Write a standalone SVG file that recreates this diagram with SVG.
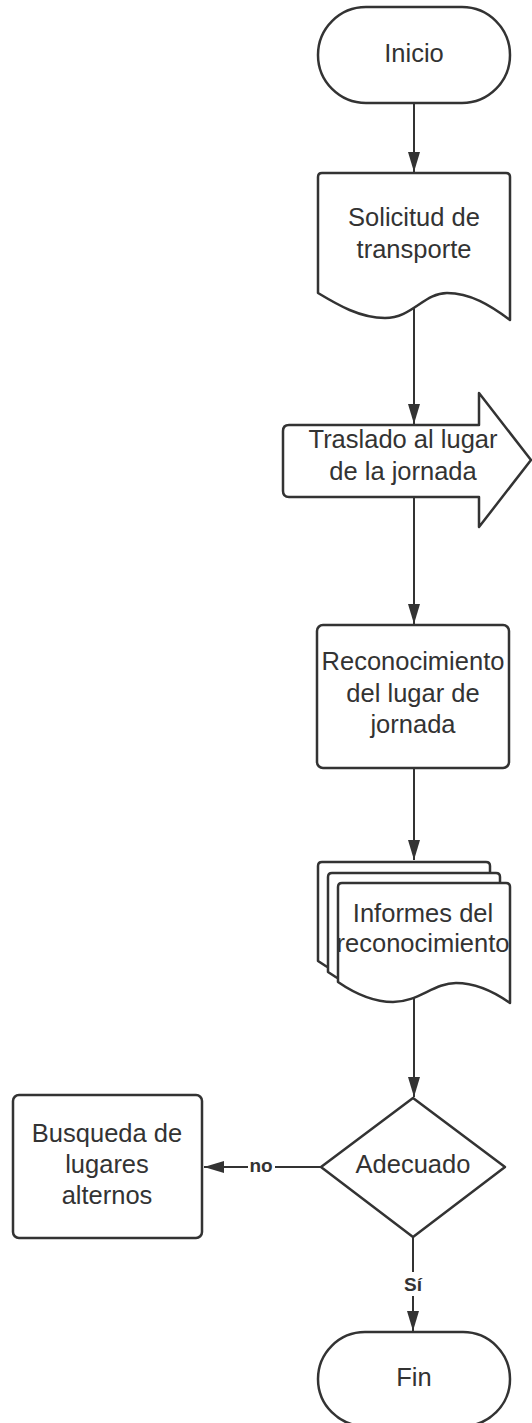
<svg xmlns="http://www.w3.org/2000/svg" xmlns:xlink="http://www.w3.org/1999/xlink" width="532" height="1423" viewBox="0 0 532 1423">
<style>
.shape{fill:#fff;stroke:#333;stroke-width:2.5;stroke-linejoin:round}
.t{font-family:"Liberation Sans",Arial,sans-serif;font-size:25.5px;fill:#333;text-anchor:middle}
.lbl{font-family:"Liberation Sans",Arial,sans-serif;font-size:19px;font-weight:bold;fill:#333;text-anchor:middle}
.conn{fill:none;stroke:#333;stroke-width:2}
</style>
<defs>
<marker id="ah" markerWidth="20" markerHeight="12" refX="20" refY="6" orient="auto" markerUnits="userSpaceOnUse">
<path d="M0,0 L20,6 L0,12 Z" fill="#333"/>
</marker>
<path id="page" d="M0,99 V4 Q0,0 4,0 H168 Q172,0 172,4 V120 C155,108 138,100 118,100 C96,100 80,119 55,119 C34,119 16,110 0,99 Z"/>
</defs>
<rect width="532" height="1423" fill="#fff"/>
<g id="connectors">
<line class="conn" x1="414" y1="103" x2="414" y2="172" marker-end="url(#ah)"/>
<line class="conn" x1="414" y1="306" x2="414" y2="424" marker-end="url(#ah)"/>
<line class="conn" x1="414" y1="497" x2="414" y2="624" marker-end="url(#ah)"/>
<line class="conn" x1="414" y1="768" x2="414" y2="860" marker-end="url(#ah)"/>
<line class="conn" x1="414" y1="994" x2="414" y2="1097" marker-end="url(#ah)"/>
<line class="conn" x1="321" y1="1167" x2="204" y2="1167" marker-end="url(#ah)"/>
<rect x="248" y="1155" width="27" height="22" fill="#fff"/>
<text class="lbl" x="261" y="1172">no</text>
<line class="conn" x1="413" y1="1237" x2="413" y2="1331" marker-end="url(#ah)"/>
<rect x="402" y="1272" width="22" height="24" fill="#fff"/>
<text class="lbl" x="413" y="1291">Sí</text>
</g>
<g id="inicio">
<rect class="shape" x="318" y="7" width="192" height="96" rx="48"/>
<text class="t" x="414" y="62">Inicio</text>
</g>
<g id="solicitud">
<path class="shape" d="M318,293 V177 Q318,173 322,173 H506 Q510,173 510,177 V320 C490,305 470,293 447,293 C424,293 412,318 385,318 C360,318 338,305 318,293 Z"/>
<text class="t" x="414" y="226">Solicitud de</text>
<text class="t" x="414" y="258">transporte</text>
</g>
<g id="traslado">
<path class="shape" d="M289,425 H479 V393 L531,460 L479,527 V497 H289 Q283,497 283,491 V431 Q283,425 289,425 Z"/>
<text class="t" x="403" y="448">Traslado al lugar</text>
<text class="t" x="403" y="480">de la jornada</text>
</g>
<g id="reconocimiento">
<rect class="shape" x="317" y="625" width="192" height="143" rx="6"/>
<text class="t" x="413" y="670">Reconocimiento</text>
<text class="t" x="413" y="702">del lugar de</text>
<text class="t" x="413" y="733">jornada</text>
</g>
<g id="informes">
<use xlink:href="#page" class="shape" x="318" y="862"/>
<use xlink:href="#page" class="shape" x="328" y="873"/>
<use xlink:href="#page" class="shape" x="338" y="883"/>
<text class="t" x="423" y="922">Informes del</text>
<text class="t" x="423" y="952">reconocimiento</text>
</g>
<g id="adecuado">
<path class="shape" d="M413,1098 L505,1167 L413,1237 L321,1167 Z"/>
<text class="t" x="413" y="1173">Adecuado</text>
</g>
<g id="busqueda">
<rect class="shape" x="13" y="1095" width="189" height="143" rx="6"/>
<text class="t" x="107" y="1142">Busqueda de</text>
<text class="t" x="107" y="1173">lugares</text>
<text class="t" x="107" y="1204">alternos</text>
</g>
<g id="fin">
<rect class="shape" x="318" y="1332" width="192" height="94" rx="47"/>
<text class="t" x="414" y="1386">Fin</text>
</g>
</svg>
